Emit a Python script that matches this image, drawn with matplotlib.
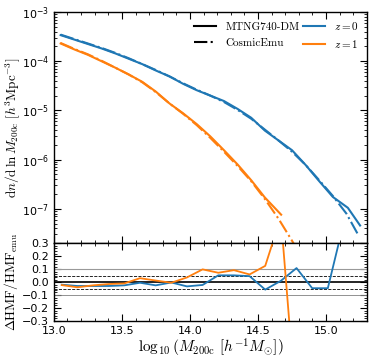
import numpy as np
import matplotlib
matplotlib.use('Agg')
import matplotlib.pyplot as plt
from matplotlib.ticker import MultipleLocator, AutoMinorLocator, LogLocator, NullFormatter

plt.rcParams['mathtext.fontset'] = 'cm'
plt.rcParams['axes.linewidth'] = 1.0
plt.rcParams['xtick.direction'] = 'in'
plt.rcParams['ytick.direction'] = 'in'
plt.rcParams['xtick.top'] = True
plt.rcParams['ytick.right'] = True

# log10 mass grid, HMF values as log10(dn/dlnM)
x_emu0 = [13.05, 13.15, 13.25, 13.35, 13.45, 13.55, 13.65, 13.75, 13.85, 13.95, 14.05, 14.15,
          14.25, 14.35, 14.45, 14.55, 14.65, 14.75, 14.85, 14.95, 15.05, 15.15, 15.23]
logn_emu0 = [-3.46, -3.55, -3.64, -3.73, -3.83, -3.94, -4.06, -4.18, -4.31, -4.45, -4.58, -4.70,
             -4.83, -4.99, -5.17, -5.39, -5.61, -5.84, -6.11, -6.42, -6.74, -7.10, -7.50]

x_sim0 = [13.05, 13.15, 13.25, 13.35, 13.45, 13.55, 13.65, 13.75, 13.85, 13.95, 14.05, 14.15,
          14.25, 14.35, 14.45, 14.55, 14.65, 14.75, 14.85, 14.95, 15.05, 15.10, 15.16, 15.25]
logn_sim0 = [-3.47, -3.56, -3.65, -3.74, -3.84, -3.95, -4.06, -4.19, -4.31, -4.46, -4.59, -4.70,
             -4.81, -4.97, -5.15, -5.41, -5.61, -5.81, -6.11, -6.44, -6.76, -6.86, -6.98, -7.34]

x_emu1 = [13.05, 13.15, 13.25, 13.35, 13.45, 13.55, 13.65, 13.75, 13.85, 13.95, 14.05, 14.15,
          14.25, 14.35, 14.45, 14.55, 14.65, 14.75, 14.85]
logn_emu1 = [-3.63, -3.75, -3.86, -3.99, -4.13, -4.27, -4.43, -4.63, -4.86, -5.07, -5.30, -5.56,
             -5.84, -6.13, -6.44, -6.80, -7.20, -7.65, -8.15]

x_sim1 = [13.05, 13.15, 13.25, 13.35, 13.45, 13.55, 13.65, 13.75, 13.85, 13.95, 14.05, 14.15,
          14.25, 14.35, 14.45, 14.55, 14.67]
logn_sim1 = [-3.64, -3.76, -3.87, -4.00, -4.13, -4.27, -4.42, -4.62, -4.86, -5.06, -5.28, -5.53,
             -5.81, -6.10, -6.42, -6.77, -7.12]

# residual bins
x_res = [13.058, 13.173, 13.288, 13.403, 13.518, 13.633, 13.748, 13.863, 13.978, 14.093,
         14.208, 14.323, 14.438, 14.553, 14.668, 14.783, 14.898, 15.013, 15.128]
res0 = [-0.020, -0.030, -0.030, -0.030, -0.025, -0.005, -0.025, -0.003, -0.033, -0.022,
        0.052, 0.052, 0.046, -0.058, 0.010, 0.108, -0.047, -0.047, 0.45]
res1 = [-0.023, -0.040, -0.025, -0.015, -0.010, 0.030, 0.012, -0.005, 0.036, 0.098,
        0.072, 0.092, 0.059, 0.125, 0.50, -1.0]

c0 = '#1f77b4'
c1 = '#ff7f0e'

fig = plt.figure(figsize=(3.74, 3.64), dpi=100)
ax = fig.add_axes([0.144, 0.332, 0.837, 0.635])
axr = fig.add_axes([0.144, 0.118, 0.837, 0.214], sharex=ax)

ax.plot(x_sim0, 10**np.array(logn_sim0), color=c0, lw=1.5)
ax.plot(x_emu0, 10**np.array(logn_emu0), color=c0, lw=1.5, ls='-.')
ax.plot(x_sim1, 10**np.array(logn_sim1), color=c1, lw=1.5)
ax.plot(x_emu1, 10**np.array(logn_emu1), color=c1, lw=1.5, ls='-.')
ax.set_yscale('log')
ax.set_ylim(2e-8, 1e-3)
ax.set_xlim(13.0, 15.3)
ax.set_ylabel(r'$\mathrm{d}n/\mathrm{d}\,\ln M_{\mathrm{200c}}\ [h^3\mathrm{Mpc}^{-3}]$', fontsize=9.5)
ax.yaxis.set_label_coords(-0.102, 0.5)
ax.yaxis.set_major_locator(LogLocator(base=10, numticks=10))
ax.yaxis.set_minor_locator(LogLocator(base=10, subs=np.arange(2, 10), numticks=10))
ax.yaxis.set_minor_formatter(NullFormatter())
ax.xaxis.set_major_locator(MultipleLocator(0.5))
ax.xaxis.set_minor_locator(MultipleLocator(0.1))
plt.setp(ax.get_xticklabels(), visible=False)

# legend with style and colour entries
h1, = ax.plot([], [], color='k', lw=1.5, ls='-')
h2, = ax.plot([], [], color='k', lw=1.5, ls='-.')
h3, = ax.plot([], [], color=c0, lw=1.5)
h4, = ax.plot([], [], color=c1, lw=1.5)
leg = ax.legend([h1, h2, h3, h4], ['MTNG740-DM', 'CosmicEmu', r'$z=0$', r'$z=1$'],
                ncol=2, loc='upper right', frameon=False,
                prop={'family': 'cmr10', 'size': 8}, columnspacing=0.3,
                handletextpad=0.8, borderaxespad=0.35, labelspacing=0.5)

axr.axhline(0.0, color='k', lw=1.2)
axr.axhline(0.05, color='k', lw=0.6, ls='--')
axr.axhline(-0.05, color='k', lw=0.6, ls='--')
axr.axhline(0.1, color='0.6', lw=0.8)
axr.axhline(-0.1, color='0.5', lw=0.6)
axr.plot(x_res, res0, color=c0, lw=1.3)
axr.plot(x_res[:len(res1)], res1, color=c1, lw=1.3)
axr.set_ylim(-0.3, 0.3)
axr.yaxis.set_major_locator(MultipleLocator(0.1))
axr.yaxis.set_minor_locator(AutoMinorLocator(5))
axr.set_ylabel(r'$\Delta\mathrm{HMF}/\mathrm{HMF}_{\mathrm{emu}}$', fontsize=9.5)
axr.yaxis.set_label_coords(-0.108, 0.5)
axr.set_xlabel(r'$\log_{10}(M_{\mathrm{200c}}\ [h^{-1}M_{\odot}])$', fontsize=11, labelpad=1)

for a in (ax, axr):
    a.tick_params(which='major', length=5, width=0.8, labelsize=8)
    a.tick_params(which='minor', length=2.5, width=0.6)

fig.savefig('out.png', dpi=100)
